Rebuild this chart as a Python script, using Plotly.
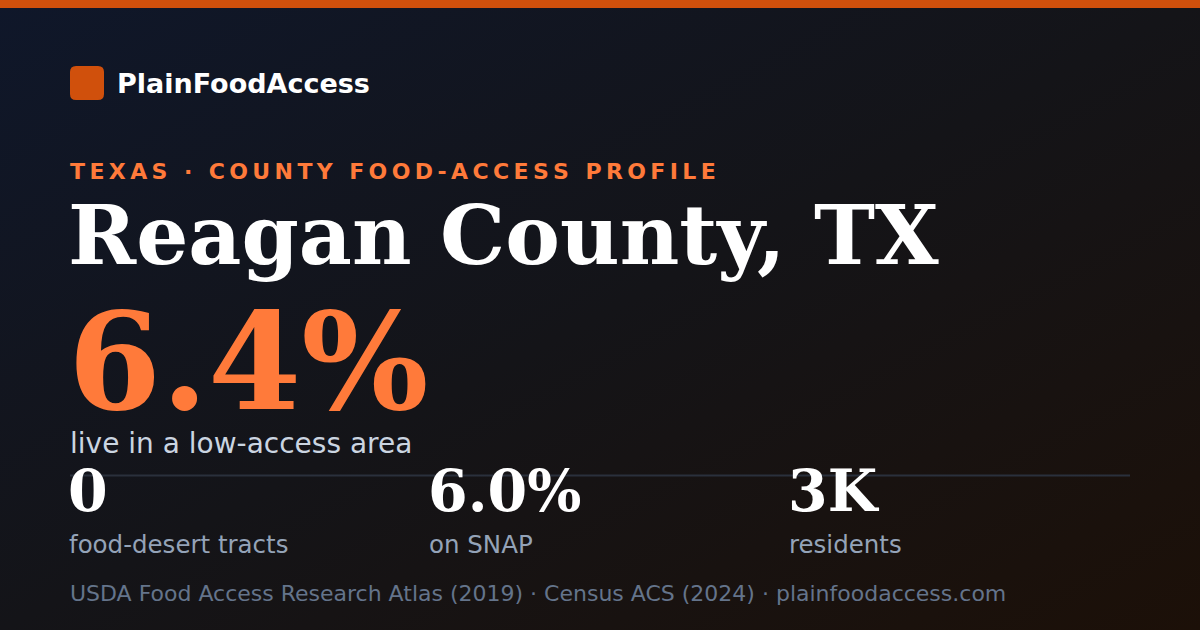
import base64
import plotly.graph_objects as go

# card content
brand = "PlainFoodAccess"
kicker = "TEXAS · COUNTY FOOD-ACCESS PROFILE"
county = "Reagan County, TX"
headline_value = "6.4%"
headline_label = "live in a low-access area"
stat_values = ["0", "6.0%", "3K"]
stat_labels = ["food-desert tracts", "on SNAP", "residents"]
source_note = "USDA Food Access Research Atlas (2019) · Census ACS (2024) · plainfoodaccess.com"

W, H = 1200, 630
ORANGE = "#ff7a3a"
ACCENT = "#d0500c"
SANS = "DejaVu Sans"
SERIF = "DejaVu Serif"


def spaced(s, gap="\u2009"):
    # fake letter-spacing, plotly has no letter-spacing option
    return gap.join(s)


bg_svg = f"""<svg xmlns='http://www.w3.org/2000/svg' width='{W}' height='{H}'>
<defs><linearGradient id='g' x1='0' y1='0' x2='1' y2='1'>
<stop offset='0' stop-color='#0f172a'/>
<stop offset='0.5' stop-color='#141418'/>
<stop offset='1' stop-color='#1c1008'/>
</linearGradient></defs>
<rect width='{W}' height='{H}' fill='url(#g)'/></svg>"""
bg_uri = "data:image/svg+xml;base64," + base64.b64encode(bg_svg.encode()).decode()

fig = go.Figure()

fig.add_layout_image(
    source=bg_uri, xref="paper", yref="paper", x=0, y=1, sizex=1, sizey=1,
    sizing="stretch", xanchor="left", yanchor="top", layer="below",
)

# top accent bar
fig.add_shape(type="rect", x0=0, x1=W, y0=0, y1=8, fillcolor=ACCENT, line_width=0)

# logo tile with rounded corners
r = 6
x0, y0, x1, y1 = 70, 66, 104, 100
fig.add_shape(
    type="path",
    path=(f"M {x0+r},{y0} L {x1-r},{y0} Q {x1},{y0} {x1},{y0+r} L {x1},{y1-r} "
          f"Q {x1},{y1} {x1-r},{y1} L {x0+r},{y1} Q {x0},{y1} {x0},{y1-r} "
          f"L {x0},{y0+r} Q {x0},{y0} {x0+r},{y0} Z"),
    fillcolor=ACCENT, line_width=0,
)

# divider
fig.add_shape(type="line", x0=70, x1=1130, y0=475.5, y1=475.5,
              line=dict(color="#2a303c", width=2))


def text(x, y, s, size, color, family=SANS, weight="normal"):
    fig.add_annotation(
        x=x, y=y, text=s, showarrow=False, xanchor="left", yanchor="middle",
        font=dict(family=family, size=size, color=color, weight=weight),
    )


text(115, 83, brand, 27, "#ffffff", weight="bold")
text(68, 171, spaced(kicker), 22, ORANGE, weight="bold")
text(66, 235, county, 82, "#ffffff", family=SERIF, weight="bold")
text(66, 362, headline_value, 134, ORANGE, family=SERIF, weight="bold")
text(68, 443, headline_label, 28, "#cbd5e1")

stat_x = [70, 430, 790]
for x, v, lab in zip(stat_x, stat_values, stat_labels):
    text(x - 4, 490, v, 57, "#ffffff", family=SERIF, weight="bold")
    text(x - 3, 544, lab, 24.5, "#94a3b8")

text(68, 593, source_note, 22, "#64748b")

fig.update_xaxes(range=[0, W], visible=False, fixedrange=True)
fig.update_yaxes(range=[H, 0], visible=False, fixedrange=True)
fig.update_layout(
    width=W, height=H, margin=dict(l=0, r=0, t=0, b=0),
    paper_bgcolor="#141418", plot_bgcolor="rgba(0,0,0,0)",
    showlegend=False,
)

fig.write_html("out.html", config={"displayModeBar": False},
               post_script="document.body.style.margin = '0';")
